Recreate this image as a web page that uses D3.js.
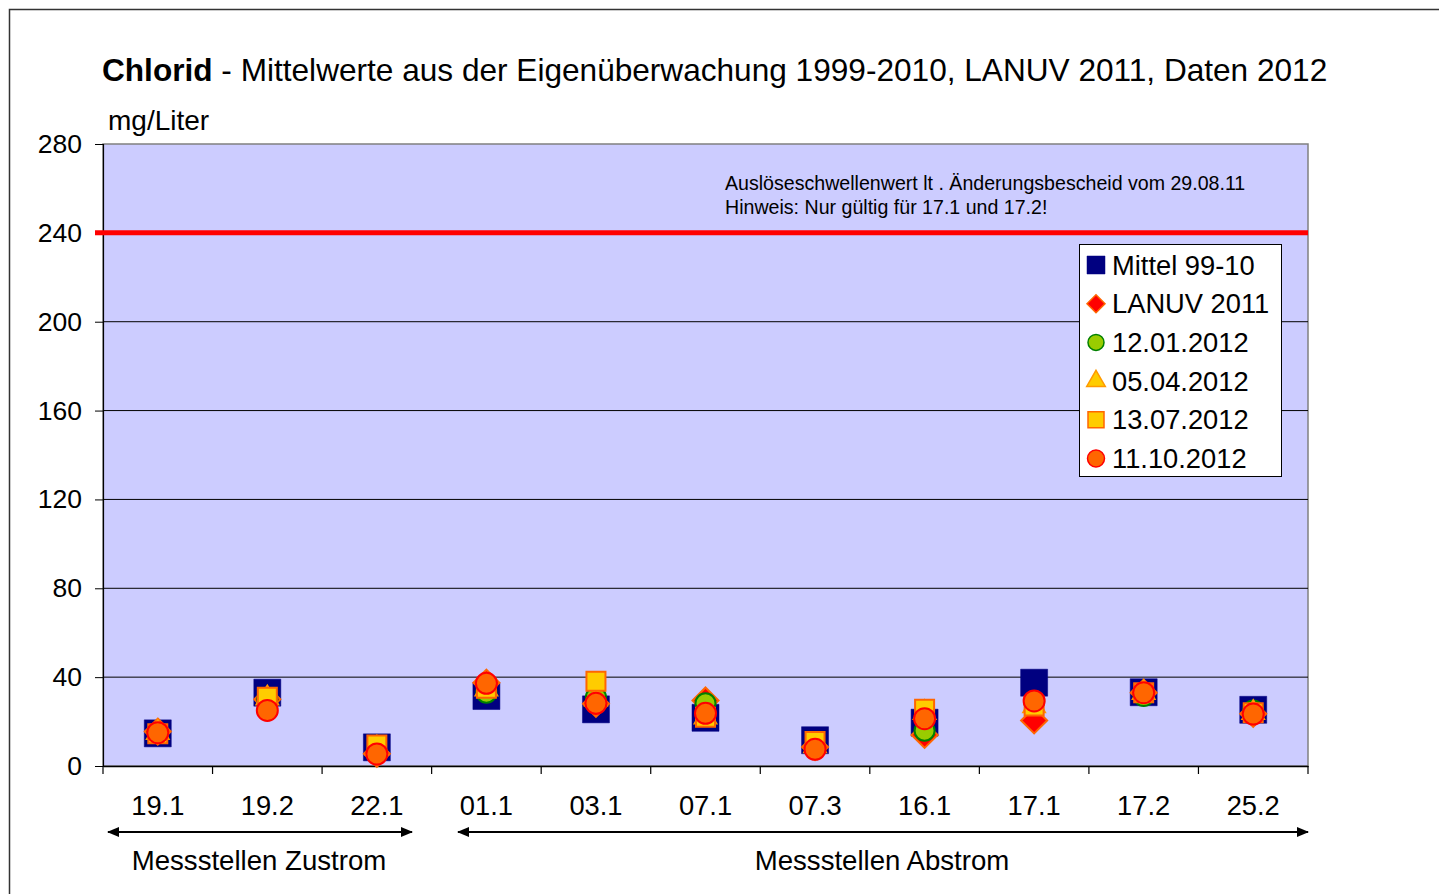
<!DOCTYPE html>
<html><head><meta charset="utf-8">
<script src="https://cdn.jsdelivr.net/npm/d3@7"></script>
<style>body{margin:0;background:#fff;}svg{display:block;font-family:"Liberation Sans",Arial,sans-serif;}</style>
</head><body>
<svg id="c" width="1439" height="894"></svg>
<script>
const categories = ["19.1","19.2","22.1","01.1","03.1","07.1","07.3","16.1","17.1","17.2","25.2"];
const mittel  = [14.7, 33.0, 8.4, 31.5, 25.5, 21.7, 11.6, 19.5, 37.5, 33.2, 25.3];
const lanuv   = [15.5, 30.0, 5.5, 37.5, 28.0, 29.5, 8.5, 14.0, 20.5, 33.0, 23.5];
const d120112 = [15.0, 30.0, 6.0, 33.0, 31.0, 28.2, 8.0, 15.9, 29.0, 31.5, 25.0];
const d050412 = [15.0, 30.5, 8.0, 34.5, 30.0, 22.0, 9.0, 24.0, 27.0, 33.0, 24.0];
const d130712 = [14.5, 31.0, 9.5, 35.0, 38.1, 22.0, 11.0, 25.6, 27.0, 33.0, 24.0];
const d111012 = [15.0, 25.0, 5.4, 37.2, 28.2, 23.7, 7.5, 21.3, 29.3, 33.0, 23.4];
const yTicks = [0, 40, 80, 120, 160, 200, 240, 280];
const threshold = 240;
const seriesNames = ["Mittel 99-10","LANUV 2011","12.01.2012","05.04.2012","13.07.2012","11.10.2012"];
const groups = [{label:"Messstellen Zustrom", from:"19.1", to:"22.1"},{label:"Messstellen Abstrom", from:"01.1", to:"25.2"}];

const svg = d3.select("#c");
const L=103, R=1308, T=144, B=766;
const x = d3.scaleBand().domain(categories).range([L,R]).padding(0);
const y = d3.scaleLinear().domain([0,280]).range([B,T]);

// outer frame
svg.append("rect").attr("x",9.5).attr("y",9.5).attr("width",1440).attr("height",900)
  .attr("fill","#fff").attr("stroke","#333").attr("stroke-width",1.5);

// plot area
svg.append("rect").attr("x",L).attr("y",T).attr("width",R-L).attr("height",B-T)
  .attr("fill","#CCCCFF").attr("stroke","#808080").attr("stroke-width",1.5);

// gridlines
svg.append("g").selectAll("line").data(yTicks.filter(d=>d>0 && d<280 && d!==threshold)).join("line")
  .attr("x1",L).attr("x2",R).attr("y1",d=>y(d)).attr("y2",d=>y(d))
  .attr("stroke","#000").attr("stroke-width",1);

// y axis
const yAxis = svg.append("g").attr("transform",`translate(${L},0)`)
  .call(d3.axisLeft(y).tickValues(yTicks).tickSize(8).tickPadding(13).tickFormat(d3.format("d")));
yAxis.select(".domain").attr("stroke","#000").attr("stroke-width",1.2);
yAxis.selectAll(".tick line").attr("stroke","#000");
yAxis.selectAll("text").attr("font-size",26.5).attr("fill","#000").attr("font-family","Liberation Sans, Arial, sans-serif");

// x axis
const xAxis = svg.append("g").attr("transform",`translate(0,${B})`)
  .call(d3.axisBottom(x).tickSize(0).tickPadding(30));
xAxis.select(".domain").attr("stroke","#000").attr("stroke-width",1.5);
xAxis.selectAll("text").attr("font-size",27.3).attr("fill","#000").attr("font-family","Liberation Sans, Arial, sans-serif");
const bounds = categories.map(c=>x(c)).concat([R]);
svg.append("g").selectAll("line").data(bounds).join("line")
  .attr("x1",d=>d).attr("x2",d=>d).attr("y1",B).attr("y2",B+8)
  .attr("stroke","#000").attr("stroke-width",1.2);

// threshold line
svg.append("line").attr("x1",L-8).attr("x2",R).attr("y1",y(threshold)).attr("y2",y(threshold))
  .attr("stroke","#FF0000").attr("stroke-width",5);
svg.append("text").attr("x",725).attr("y",190).attr("font-size",19.6).text("Auslöseschwellenwert lt . Änderungsbescheid vom 29.08.11");
svg.append("text").attr("x",725).attr("y",214).attr("font-size",19.6).text("Hinweis: Nur gültig für 17.1 und 17.2!");

// markers
const diamond = {draw(ctx, size){ const r = Math.sqrt(size)/2; ctx.moveTo(0,-r); ctx.lineTo(r,0); ctx.lineTo(0,r); ctx.lineTo(-r,0); ctx.closePath(); }};
const styles = [
  {data:mittel,  type:d3.symbolSquare,  size:27*27, fill:"#000080", stroke:"#000080", sw:0.5, lsize:18*18},
  {data:lanuv,   type:diamond,          size:26*26, fill:"#FF0000", stroke:"#FF6600", sw:2, lsize:18*18},
  {data:d120112, type:d3.symbolCircle,  size:Math.PI*10*10, fill:"#99CC00", stroke:"#008000", sw:2, lsize:Math.PI*8*8},
  {data:d050412, type:d3.symbolTriangle,size:220, fill:"#FFCC00", stroke:"#FF9900", sw:1.5, lsize:150},
  {data:d130712, type:d3.symbolSquare,  size:19*19, fill:"#FFCC00", stroke:"#FF6600", sw:2, lsize:16*16},
  {data:d111012, type:d3.symbolCircle,  size:Math.PI*10.5*10.5, fill:"#FF6600", stroke:"#FF0000", sw:2, lsize:Math.PI*8.5*8.5}
];
styles.forEach(st=>{
  svg.append("g").selectAll("path").data(st.data).join("path")
    .attr("d", d3.symbol().type(st.type).size(st.size)())
    .attr("transform",(d,i)=>`translate(${x(categories[i])+x.bandwidth()/2},${y(d)})`)
    .attr("fill",st.fill).attr("stroke",st.stroke).attr("stroke-width",st.sw);
});

// legend
const lg = svg.append("g");
lg.append("rect").attr("x",1079.5).attr("y",244.5).attr("width",202).attr("height",232)
  .attr("fill","#fff").attr("stroke","#000").attr("stroke-width",1);
styles.forEach((st,i)=>{
  const cy = 265 + i*38.7;
  lg.append("path").attr("d", d3.symbol().type(st.type).size(st.lsize)())
    .attr("transform",`translate(1096,${cy})`)
    .attr("fill",st.fill).attr("stroke",st.stroke).attr("stroke-width",Math.min(st.sw,1.5));
  lg.append("text").attr("x",1112).attr("y",cy+9.5).attr("font-size",27.3).text(seriesNames[i]);
});

// title
const title = svg.append("text").attr("x",102).attr("y",81).attr("font-size",31.6);
title.append("tspan").attr("font-weight","bold").text("Chlorid");
title.append("tspan").text(" - Mittelwerte aus der Eigenüberwachung 1999-2010, LANUV 2011, Daten 2012");
svg.append("text").attr("x",108).attr("y",130).attr("font-size",28).text("mg/Liter");

// group arrows
const defs = svg.append("defs");
defs.append("marker").attr("id","ah").attr("viewBox","0 0 12 10").attr("refX",11).attr("refY",5)
  .attr("markerWidth",12).attr("markerHeight",10).attr("markerUnits","userSpaceOnUse").attr("orient","auto-start-reverse")
  .append("path").attr("d","M0,0 L12,5 L0,10 Z").attr("fill","#000");
const gx0 = [108, 458], gx1 = [412, 1308];
groups.forEach((g,i)=>{
  svg.append("line").attr("x1",gx0[i]).attr("x2",gx1[i]).attr("y1",832).attr("y2",832)
    .attr("stroke","#000").attr("stroke-width",2)
    .attr("marker-start","url(#ah)").attr("marker-end","url(#ah)");
  svg.append("text").attr("x",i===0?259:882).attr("y",870).attr("text-anchor","middle").attr("font-size",27.6).text(g.label);
});
</script>
</body></html>
